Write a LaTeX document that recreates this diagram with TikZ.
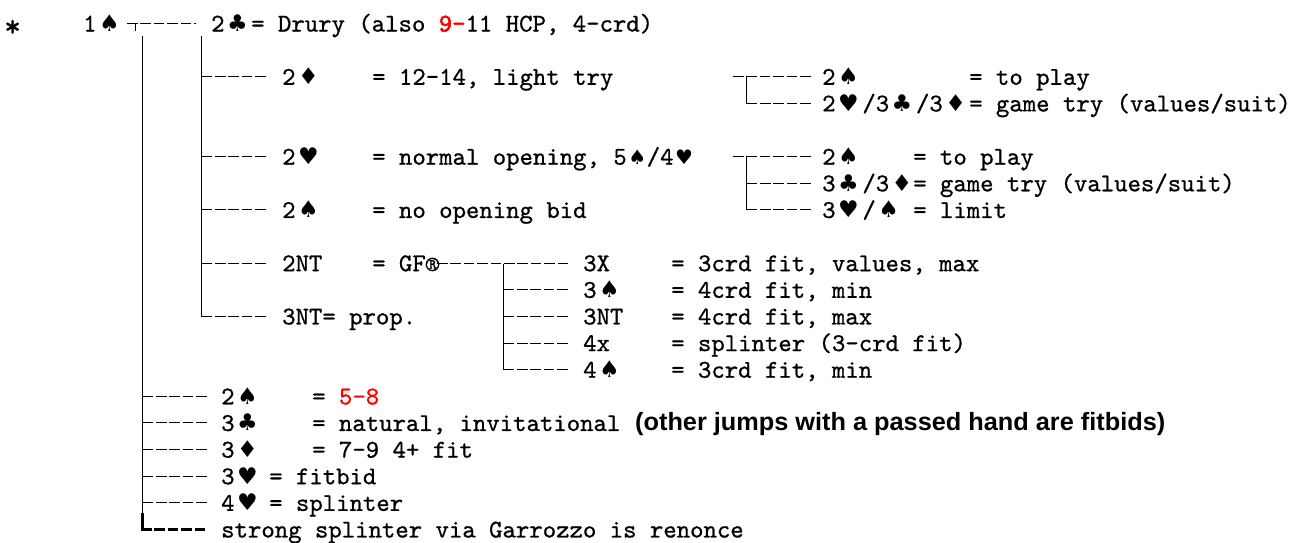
\documentclass[tikz,border=0pt]{standalone}
\usepackage{fontspec}
\usepackage{graphicx}
\newfontfamily\monofont{lmmono10-regular.otf}[FakeBold=0.8]
\newfontfamily\monoheavy{lmmono10-regular.otf}[FakeBold=2.2]
\newfontfamily\suitfont{DejaVu Sans}
\newfontfamily\notefont{Liberation Sans}

% card suits: full-width cell and a narrower variant
\newcommand\suit[1]{\makebox[26.8pt][l]{\hspace{2.5pt}\suitfont\fontsize{23}{23}\selectfont #1}}
\newcommand\nsuit[1]{\makebox[20pt][l]{\hspace{1.5pt}\suitfont\fontsize{20}{20}\selectfont #1}}
\newcommand\Sp{\suit{♠}}
\newcommand\Cl{\suit{♣}}
\newcommand\Di{\suit{♦}}
\newcommand\He{\suit{♥}}
% baseline and connector height of text line k (connectors sit on pixel centres)
\newcommand\by[1]{31.5+26.63*#1}
\newcommand\ly[1]{round(23+26.63*#1)+0.5}

\begin{document}
\begin{tikzpicture}[x=1pt,y=-1pt,
  txt/.style={anchor=base west,inner sep=0pt,font=\monofont\fontsize{25.52}{30}\selectfont},
  ln/.style={draw=black,line width=1.7pt},
  twig/.style={ln,dash pattern=on 10.6pt off 2.8pt},
  thick twig/.style={twig,line width=2.9pt}]
\useasboundingbox (0,0) rectangle (1308,542);
\fill[white] (0,0) rectangle (1308,542);

% ---------- opening and Drury ----------
\node[txt,font=\monofont\fontsize{32}{32}\selectfont] (star) at (4,{\by{0}+5}) {*};
\node[txt] (open) at (83,{\by{0}}) {1\Sp};
\node[txt] (drury) at (211,{\by{0}}) {2\Cl};
\node[txt] (druryd) at (251,{\by{0}}) {= Drury (also {\monoheavy\color{red}9-}11 HCP, 4-crd)};

% ---------- opener's rebids after Drury ----------
\node[txt] (d2d) at (282,{\by{2}}) {2\Di};
\node[txt] (d2dd) at (372,{\by{2}}) {= 12-14, light try};
\node[txt] (d2h) at (282,{\by{5}}) {2\He};
\node[txt] (d2hd) at (372,{\by{5}}) {= normal opening, 5\nsuit{♠}/4\nsuit{♥}};
\node[txt] (d2s) at (282,{\by{7}}) {2\Sp};
\node[txt] (d2sd) at (372,{\by{7}}) {= no opening bid};
\node[txt] (d2n) at (282,{\by{9}}) {2NT};
\node[txt] (d2nd) at (372,{\by{9}}) {= GF®};
\node[txt] (d3n) at (282,{\by{11}}) {3NT= prop.};

% ---------- answers to 2D ----------
\node[txt] (a2s) at (822,{\by{2}}) {2\Sp};
\node[txt] (a2sd) at (969,{\by{2}}) {= to play};
\node[txt] (a2t) at (822,{\by{3}}) {2\He/3\Cl/3\Di};
\node[txt] (a2td) at (969,{\by{3}}) {= game try (values/suit)};

% ---------- answers to 2H ----------
\node[txt] (b2s) at (822,{\by{5}}) {2\Sp};
\node[txt] (b2sd) at (913,{\by{5}}) {= to play};
\node[txt] (b3m) at (822,{\by{6}}) {3\Cl/3\Di};
\node[txt] (b3md) at (913,{\by{6}}) {= game try (values/suit)};
\node[txt] (b3h) at (822,{\by{7}}) {3\He/\Sp};
\node[txt] (b3hd) at (913,{\by{7}}) {= limit};

% ---------- answers to 2NT ----------
\node[txt] (c3x) at (583,{\by{9}}) {3X};
\node[txt] (c3xd) at (671,{\by{9}}) {= 3crd fit, values, max};
\node[txt] (c3s) at (583,{\by{10}}) {3\Sp};
\node[txt] (c3sd) at (671,{\by{10}}) {= 4crd fit, min};
\node[txt] (c3n) at (583,{\by{11}}) {3NT};
\node[txt] (c3nd) at (671,{\by{11}}) {= 4crd fit, max};
\node[txt] (c4x) at (583,{\by{12}}) {4x};
\node[txt] (c4xd) at (671,{\by{12}}) {= splinter (3-crd fit)};
\node[txt] (c4s) at (583,{\by{13}}) {4\Sp};
\node[txt] (c4sd) at (671,{\by{13}}) {= 3crd fit, min};

% ---------- other responses ----------
\node[txt] (r2s) at (221,{\by{14}}) {2\Sp};
\node[txt] (r2sd) at (312,{\by{14}}) {= {\color{red}5-8}};
\node[txt] (r3c) at (221,{\by{15}}) {3\Cl};
\node[txt] (r3cd) at (312,{\by{15}}) {= natural, invitational};
\node[anchor=base west,inner sep=0pt] (r3cn) at (635,{\by{15}})
  {\resizebox{530pt}{\height}{\notefont\bfseries\fontsize{25}{26}\selectfont (other jumps with a passed hand are fitbids)}};
\node[txt] (r3d) at (221,{\by{16}}) {3\Di};
\node[txt] (r3dd) at (312,{\by{16}}) {= 7-9 4+ fit};
\node[txt] (r3h) at (221,{\by{17}}) {3\He};
\node[txt] (r3hd) at (269,{\by{17}}) {= fitbid};
\node[txt] (r4h) at (221,{\by{18}}) {4\He};
\node[txt] (r4hd) at (269,{\by{18}}) {= splinter};
\node[txt] (rstr) at (221,{\by{19}}) {strong splinter via Garrozzo is renonce};

% ---------- tree connectors ----------
% top tee after 1S
\coordinate (t0a) at (127,{\ly{0}});
\coordinate (t0b) at (196,{\ly{0}});
\coordinate (t0c) at (135.5,{\ly{0}});
\coordinate (t0d) at (135.5,31);
\draw[twig] (t0a) -- (t0b);
\draw[ln] (t0c) -- (t0d);

% main trunk
\coordinate (v1a) at (142.5,36);
\coordinate (v1b) at (142.5,{\ly{18}+10});
\coordinate (v1c) at (142.5,{\ly{19}});
\draw[ln] (v1a) -- (v1b);
\draw[ln,line width=2.9pt] (v1b) -- (v1c);
\foreach \k in {14,...,18}{
  \coordinate (m\k a) at (142.5,{\ly{\k}});
  \coordinate (m\k b) at (207,{\ly{\k}});
  \draw[twig] (m\k a) -- (m\k b);
}
\coordinate (m19a) at (141.05,{\ly{19}});
\coordinate (m19b) at (207,{\ly{19}});
\draw[thick twig] (m19a) -- (m19b);

% Drury trunk
\coordinate (v2a) at (201.5,36);
\coordinate (v2b) at (201.5,{\ly{11}});
\draw[ln] (v2a) -- (v2b);
\foreach \k in {2,5,7,9,11}{
  \coordinate (d\k a) at (201.5,{\ly{\k}});
  \coordinate (d\k b) at (267,{\ly{\k}});
  \draw[twig] (d\k a) -- (d\k b);
}

% after 2D
\coordinate (e2a) at (733,{\ly{2}});
\coordinate (e2b) at (812,{\ly{2}});
\coordinate (e2v) at (746.5,{\ly{2}});
\coordinate (e3a) at (746.5,{\ly{3}});
\coordinate (e3b) at (812,{\ly{3}});
\draw[twig] (e2a) -- (e2b);
\draw[ln] (e2v) -- (e3a);
\draw[twig] (e3a) -- (e3b);

% after 2H
\coordinate (f5a) at (733,{\ly{5}});
\coordinate (f5b) at (812,{\ly{5}});
\coordinate (f5v) at (746.5,{\ly{5}});
\coordinate (f6a) at (746.5,{\ly{6}});
\coordinate (f6b) at (812,{\ly{6}});
\coordinate (f7a) at (746.5,{\ly{7}});
\coordinate (f7b) at (812,{\ly{7}});
\draw[twig] (f5a) -- (f5b);
\draw[ln] (f5v) -- (f7a);
\draw[twig] (f6a) -- (f6b);
\draw[twig] (f7a) -- (f7b);

% after 2NT
\coordinate (g9a) at (437,{\ly{9}});
\coordinate (g9b) at (568,{\ly{9}});
\coordinate (g9v) at (503.5,{\ly{9}});
\coordinate (g13v) at (503.5,{\ly{13}});
\draw[twig] (g9a) -- (g9b);
\draw[ln] (g9v) -- (g13v);
\foreach \k in {10,...,13}{
  \coordinate (g\k a) at (503.5,{\ly{\k}});
  \coordinate (g\k b) at (568,{\ly{\k}});
  \draw[twig] (g\k a) -- (g\k b);
}
\end{tikzpicture}
\end{document}
